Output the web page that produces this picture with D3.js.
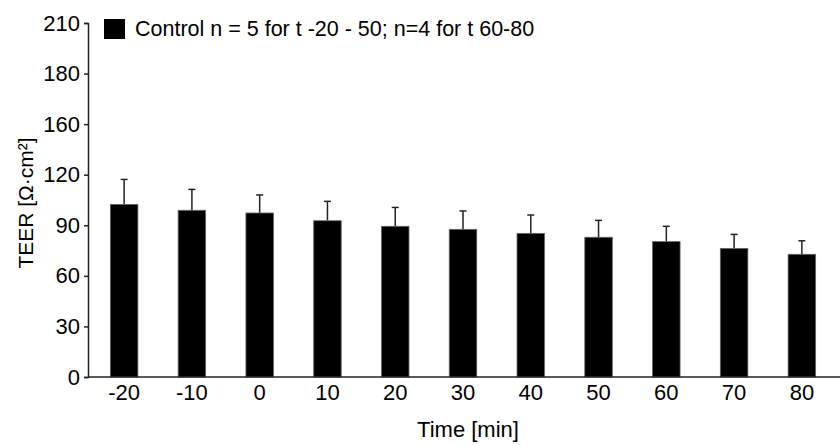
<!DOCTYPE html>
<html lang="en">
<head>
<meta charset="UTF-8">
<title>TEER control</title>
<script src="https://d3js.org/d3.v7.min.js"></script>
<style>
  body { margin: 0; background: #fff; }
  text { font-family: "Liberation Sans", Arial, Helvetica, sans-serif; fill: #000; }
</style>
</head>
<body>
<div id="chart"></div>
<script>
// data
var times = ["-20", "-10", "0", "10", "20", "30", "40", "50", "60", "70", "80"];
var teer  = [102.4, 98.9, 97.3, 92.7, 89.4, 87.6, 85.2, 82.9, 80.3, 76.3, 72.8];
var sd    = [14.8, 12.4, 10.7, 11.5, 11.2, 10.9, 10.9, 10.0, 9.1, 8.3, 8.0];
var yTicks = [0, 30, 60, 90, 120, 150, 180, 210];
var yTickLabels = ["0", "30", "60", "90", "120", "160", "180", "210"];
var legendLabel = "Control n = 5 for t -20 - 50; n=4 for t 60-80";

var W = 840, H = 445;
var x0 = 88, x1 = 838, yTop = 23, yBottom = 377;

var svg = d3.select("#chart").append("svg")
    .attr("width", W)
    .attr("height", H);

var x = d3.scaleBand()
    .domain(times)
    .range([x0, x1])
    .paddingInner(0.594)
    .paddingOuter(0.33);

var y = d3.scaleLinear()
    .domain([0, 210])
    .range([yBottom, yTop]);

var data = times.map(function(t, i) { return {t: t, v: teer[i], e: sd[i]}; });

// error bars (drawn first so the bar covers the lower part)
var eb = svg.append("g").attr("class", "errorbars");
eb.selectAll("line.stem")
  .data(data)
  .enter().append("line")
    .attr("x1", function(d) { return x(d.t) + x.bandwidth() / 2; })
    .attr("x2", function(d) { return x(d.t) + x.bandwidth() / 2; })
    .attr("y1", function(d) { return y(d.v); })
    .attr("y2", function(d) { return y(d.v + d.e); })
    .attr("stroke", "#222")
    .attr("stroke-width", 1.5);
eb.selectAll("line.cap")
  .data(data)
  .enter().append("line")
    .attr("x1", function(d) { return x(d.t) + x.bandwidth() / 2 - 3.5; })
    .attr("x2", function(d) { return x(d.t) + x.bandwidth() / 2 + 3.5; })
    .attr("y1", function(d) { return y(d.v + d.e); })
    .attr("y2", function(d) { return y(d.v + d.e); })
    .attr("stroke", "#222")
    .attr("stroke-width", 1.5);

// bars
svg.selectAll("rect.bar")
  .data(data)
  .enter().append("rect")
    .attr("class", "bar")
    .attr("x", function(d) { return x(d.t); })
    .attr("y", function(d) { return y(d.v); })
    .attr("width", x.bandwidth())
    .attr("height", function(d) { return yBottom - y(d.v); })
    .attr("fill", "#000")
    .attr("stroke", "#666")
    .attr("stroke-width", 0.8);

// y axis
var yAxis = svg.append("g")
    .attr("transform", "translate(" + x0 + ",0)")
    .call(d3.axisLeft(y)
      .tickValues(yTicks)
      .tickFormat(function(d, i) { return yTickLabels[i]; })
      .tickSize(4)
      .tickPadding(4));
yAxis.select(".domain").attr("stroke", "#222").attr("stroke-width", 1.5);
yAxis.selectAll(".tick line").attr("stroke", "#222").attr("stroke-width", 1.5);
yAxis.selectAll("text").style("font-size", "22px").attr("fill", "#000");

// x axis (line only, no ticks)
var xAxis = svg.append("g")
    .attr("transform", "translate(0," + yBottom + ")")
    .call(d3.axisBottom(x).tickSize(0).tickPadding(7));
xAxis.select(".domain")
    .attr("d", "M" + x0 + ",0H" + W)
    .attr("stroke", "#222").attr("stroke-width", 1.5);
xAxis.selectAll("text").style("font-size", "22px").attr("fill", "#000");

// axis titles
svg.append("text")
    .attr("x", 468)
    .attr("y", 437)
    .attr("text-anchor", "middle")
    .style("font-size", "22px")
    .text("Time [min]");

svg.append("text")
    .attr("transform", "translate(33,203) rotate(-90)")
    .attr("text-anchor", "middle")
    .style("font-size", "21px")
    .text("TEER [Ω·cm²]");

// legend
svg.append("rect")
    .attr("x", 104).attr("y", 19)
    .attr("width", 21).attr("height", 20)
    .attr("fill", "#000");
svg.append("text")
    .attr("x", 135)
    .attr("y", 36)
    .style("font-size", "21.5px")
    .text(legendLabel);
</script>
</body>
</html>
